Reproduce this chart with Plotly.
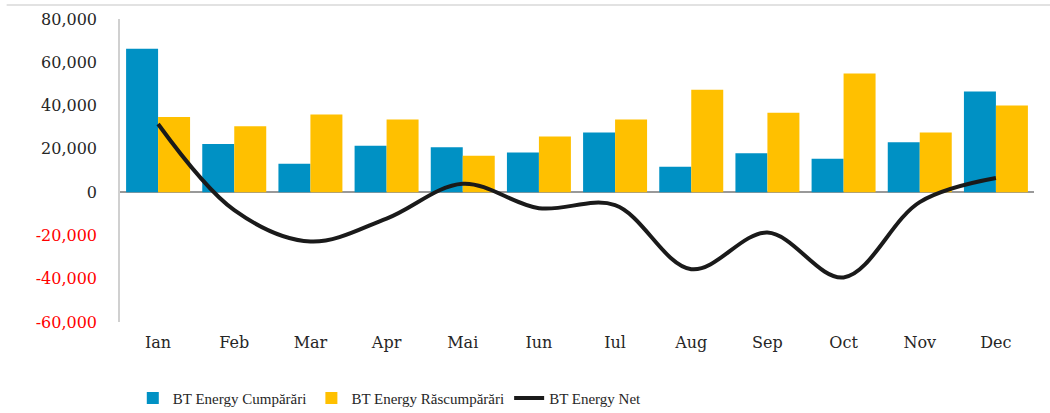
import plotly.graph_objects as go

months = ["Ian", "Feb", "Mar", "Apr", "Mai", "Iun", "Iul", "Aug", "Sep", "Oct", "Nov", "Dec"]
cumparari = [66200, 22200, 13100, 21400, 20700, 18300, 27600, 11700, 18000, 15400, 23000, 46500]
rascumparari = [34700, 30500, 35900, 33600, 16800, 25700, 33600, 47300, 36700, 54800, 27600, 40000]
net = [c - r for c, r in zip(cumparari, rascumparari)]

tick_vals = [80000, 60000, 40000, 20000, 0, -20000, -40000, -60000]
tick_text = []
for v in tick_vals:
    s = f"{v:,}"
    if v < 0:
        s = f'<span style="color:#ff0000">{s}</span>'
    tick_text.append(s)

fig = go.Figure()
fig.add_trace(go.Bar(x=months, y=cumparari, name="BT Energy Cumpărări",
                     marker=dict(color="#0091C4", line=dict(width=0))))
fig.add_trace(go.Bar(x=months, y=rascumparari, name="BT Energy Răscumpărări",
                     marker=dict(color="#FFC000", line=dict(width=0))))
fig.add_trace(go.Scatter(x=months, y=net, name="BT Energy Net", mode="lines",
                         line=dict(color="#1a1a1a", width=4, shape="spline", smoothing=1.0)))

fig.update_layout(
    width=1050, height=413,
    margin=dict(l=120, r=16, t=19, b=91, autoexpand=False),
    paper_bgcolor="white", plot_bgcolor="white",
    barmode="group", bargap=0.16, bargroupgap=0,
    font=dict(family="DejaVu Serif", color="#262626", size=15),
    showlegend=True,
    legend=dict(orientation="h", x=0.014, xanchor="left", xref="paper",
                y=0.036, yanchor="middle", yref="container",
                font=dict(family="Liberation Serif", size=15, color="#262626"),
                itemwidth=30, traceorder="normal"),
    shapes=[dict(type="line", xref="paper", yref="paper", x0=-0.124, x1=1.02,
                 y0=1.046, y1=1.046, line=dict(color="#d9d9d9", width=1.5))],
)
fig.update_xaxes(showgrid=False, showline=False, ticks="", zeroline=False, automargin=False,
                 tickfont=dict(size=16), ticklabelstandoff=9)
fig.update_yaxes(range=[-60000, 80000], tickvals=tick_vals, ticktext=tick_text, automargin=False,
                 showgrid=False, showline=True, linecolor="#d0d0d0", linewidth=1.5,
                 zeroline=True, zerolinecolor="#999999", zerolinewidth=1.5,
                 ticks="", tickfont=dict(size=16), ticklabelstandoff=18)

fig.write_html("out.html", config={"displayModeBar": False},
               post_script="document.body.style.margin='0';")
